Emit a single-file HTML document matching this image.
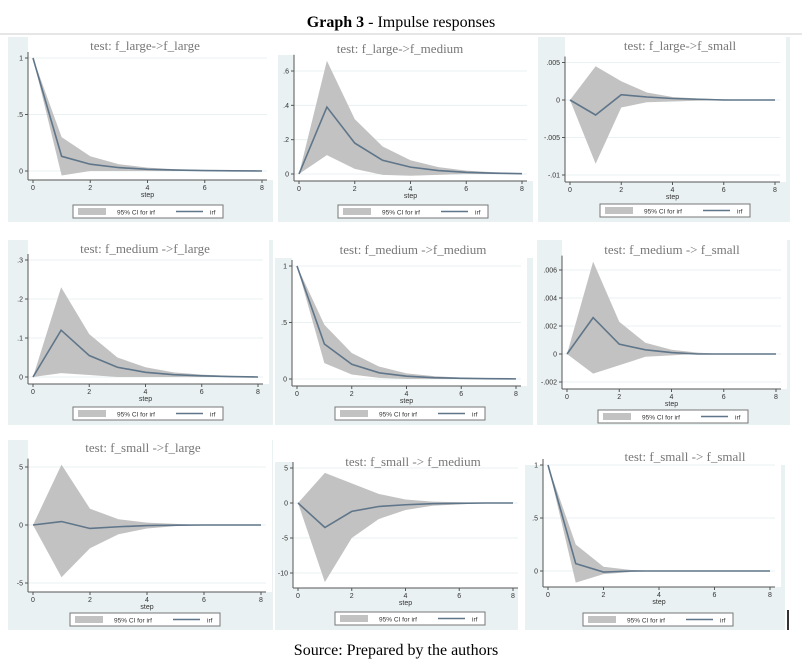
<!DOCTYPE html>
<html><head><meta charset="utf-8"><style>
body{margin:0;background:#fff;width:802px;height:660px;overflow:hidden;font-family:"Liberation Serif",serif}
svg{position:absolute;left:0;top:0}
</style></head><body>
<svg id="chart" width="802" height="660"></svg>
<script>
const steps=[0,1,2,3,4,5,6,7,8];
const titles=["test: f_large->f_large","test: f_large->f_medium","test: f_large->f_small","test: f_medium ->f_large","test: f_medium ->f_medium","test: f_medium -> f_small","test: f_small ->f_large","test: f_small -> f_medium","test: f_small -> f_small"];
const irf1=[1,.13,.06,.03,.015,.008,.004,.002,0],hi1=[1,.3,.13,.06,.03,.015,.008,.004,.002],lo1=[1,-.04,0,0,0,0,0,0,0];
const irf2=[0,.39,.18,.08,.04,.02,.01,.005,.002],hi2=[0,.66,.32,.16,.08,.04,.02,.01,.005],lo2=[0,.11,.03,-.005,-.01,-.005,0,0,0];
const irf3=[0,-.002,.0007,.0004,.0002,.0001,0,0,0],hi3=[0,.0045,.0025,.001,.0004,.0002,.0001,0,0],lo3=[0,-.0085,-.001,-.0003,-.0002,-.0001,0,0,0];
const irf4=[0,.12,.055,.025,.012,.006,.003,.001,0],hi4=[0,.23,.11,.05,.025,.012,.006,.003,.001],lo4=[0,.01,.005,0,0,0,0,0,0];
const irf5=[1,.31,.13,.055,.025,.012,.006,.003,.001],hi5=[1,.48,.23,.11,.05,.025,.012,.006,.003],lo5=[1,.14,.04,.01,0,0,0,0,0];
const irf6=[0,.0026,.0007,.0003,.0001,0,0,0,0],hi6=[0,.0066,.0023,.0008,.0003,.0001,0,0,0],lo6=[0,-.0014,-.0008,-.0002,-.0001,0,0,0,0];
const irf7=[0,.3,-.3,-.15,-.05,-.02,0,0,0],hi7=[0,5.2,1.4,.5,.2,.1,0,0,0],lo7=[0,-4.5,-2,-.8,-.3,-.1,0,0,0];
const irf8=[0,-3.5,-1.2,-.5,-.25,-.1,-.05,0,0],hi8=[0,4.3,2.8,1.3,.5,.2,.1,0,0],lo8=[0,-11.3,-5,-2.3,-1,-.4,-.2,0,0];
const irf9=[1,.07,-.01,0,0,0,0,0,0],hi9=[1,.25,.04,.01,0,0,0,0,0],lo9=[1,-.11,-.03,-.01,0,0,0,0,0];
const yTicks=[[0,.5,1],[0,.2,.4,.6],[-.01,-.005,0,.005],[0,.1,.2,.3],[0,.5,1],[-.002,0,.002,.004,.006],[-5,0,5],[-10,-5,0,5],[0,.5,1]];
const yTickLabels=[["0",".5","1"],["0",".2",".4",".6"],["-.01","-.005","0",".005"],["0",".1",".2",".3"],["0",".5","1"],["-.002","0",".002",".004",".006"],["-5","0","5"],["-10","-5","0","5"],["0",".5","1"]];
const xTicks=[0,2,4,6,8];
const IRF=[irf1,irf2,irf3,irf4,irf5,irf6,irf7,irf8,irf9],HI=[hi1,hi2,hi3,hi4,hi5,hi6,hi7,hi8,hi9],LO=[lo1,lo2,lo3,lo4,lo5,lo6,lo7,lo8,lo9];
const L=[
{bx:8,by:37,bw:265,bh:185,tx:145,ty:50,x0:33,x8:262,ya:0,pa:171,yb:1,pb:58,ax:180,lx:73,ly:205},
{bx:278,by:55,bw:255,bh:167,tx:400,ty:53,x0:299,x8:522,ya:0,pa:174,yb:.6,pb:71,ax:181,lx:338,ly:205},
{bx:538,by:37,bw:252,bh:185,tx:680,ty:50,x0:570,x8:775,ya:0,pa:100,yb:-.01,pb:175,ax:182,lx:600,ly:204},
{bx:8,by:240,bw:265,bh:185,tx:145,ty:253,x0:33,x8:258,ya:0,pa:377,yb:.3,pb:260,ax:384,lx:73,ly:407},
{bx:275,by:258,bw:258,bh:167,tx:413,ty:254,x0:297,x8:516,ya:0,pa:379,yb:1,pb:266,ax:386,lx:335,ly:407},
{bx:537,by:240,bw:253,bh:185,tx:672,ty:254,x0:567,x8:776,ya:0,pa:354,yb:.006,pb:270,ax:389,lx:598,ly:410},
{bx:8,by:440,bw:265,bh:190,tx:143,ty:452,x0:33,x8:261,ya:0,pa:525,yb:5,pb:467,ax:592,lx:70,ly:613},
{bx:275,by:462,bw:243,bh:168,tx:413,ty:466,x0:298,x8:513,ya:0,pa:503,yb:-10,pb:573,ax:588,lx:335,ly:612},
{bx:525,by:465,bw:260,bh:165,tx:685,ty:461,x0:548,x8:770,ya:0,pa:571,yb:1,pb:465,ax:587,lx:583,ly:613}];
const NS="http://www.w3.org/2000/svg",svg=document.getElementById('chart');
function mk(t,a,p,txt){const e=document.createElementNS(NS,t);for(const k in a)e.setAttribute(k,a[k]);if(txt!=null)e.textContent=txt;(p||svg).appendChild(e);return e;}
const T=mk('text',{x:401,y:27,'text-anchor':'middle','font-size':16,fill:'#000'});


mk('tspan',{'font-weight':'bold'},T,'Graph 3');mk('tspan',{},T,' - Impulse responses');
mk('line',{x1:0,y1:34,x2:802,y2:34,stroke:'#ccc','stroke-width':1});
L.forEach((l,i)=>{
 const g=mk('g',{});
 
 
 mk('rect',{x:l.bx,y:l.by,width:l.bw,height:l.bh,fill:'#eaf1f2'},g);
 const pl=l.x0-5,pr=l.x8+5;
 const yv=IRF[i],h=HI[i],lo=LO[i],tk=yTicks[i];
 const sx=s=>l.x0+(l.x8-l.x0)*s/8;
 const sy=v=>l.pa+(l.pb-l.pa)*(v-l.ya)/(l.yb-l.ya);
 const top=Math.min(...tk.map(sy),sy(Math.max(...h)))-6;
 mk('rect',{x:pl,y:l.by,width:pr-pl+6,height:l.ax-l.by,fill:'#fff'},g);
 tk.forEach((v,j)=>{mk('line',{x1:pl,x2:pr,y1:sy(v),y2:sy(v),stroke:'#eaf1f2','stroke-width':1},g);
  mk('line',{x1:pl-3,x2:pl,y1:sy(v),y2:sy(v),stroke:'#555'},g);
  mk('text',{x:pl-5,y:sy(v)+2.5,'text-anchor':'end','font-size':7,'font-family':'Liberation Sans, sans-serif',fill:'#333'},g,yTickLabels[i][j]);});
 let d='M'+steps.map(s=>sx(s)+','+sy(h[s])).join('L')+'L'+steps.slice().reverse().map(s=>sx(s)+','+sy(lo[s])).join('L')+'Z';
 const ci=mk('path',{d:d,fill:'#c2c2c2',stroke:'none'},g);
 
 
 const ln=mk('polyline',{points:steps.map(s=>sx(s)+','+sy(yv[s])).join(' '),fill:'none',stroke:'#5f7589','stroke-width':1.6},g);
 
 
 mk('line',{x1:pl,x2:pl,y1:top,y2:l.ax,stroke:'#555'},g);
 mk('line',{x1:pl,x2:pr,y1:l.ax,y2:l.ax,stroke:'#555'},g);
 xTicks.forEach(s=>{mk('line',{x1:sx(s),x2:sx(s),y1:l.ax,y2:l.ax+3,stroke:'#555'},g);
  mk('text',{x:sx(s),y:l.ax+10,'text-anchor':'middle','font-size':7,'font-family':'Liberation Sans, sans-serif',fill:'#333'},g,String(s));});
 mk('text',{x:sx(4),y:l.ax+17,'text-anchor':'middle','font-size':7,'font-family':'Liberation Sans, sans-serif',fill:'#333'},g,'step');
 const tt=mk('text',{x:l.tx,y:l.ty,'text-anchor':'middle','font-size':13,fill:'#777'},g,titles[i]);
 
 
 const lg=mk('g',{},g);
 
 
 mk('rect',{x:l.lx,y:l.ly,width:150,height:13,fill:'#fff',stroke:'#777'},lg);
 mk('rect',{x:l.lx+5,y:l.ly+3,width:28,height:7,fill:'#c2c2c2'},lg);
 mk('text',{x:l.lx+44,y:l.ly+9.5,'font-size':6.5,'font-family':'Liberation Sans, sans-serif',fill:'#333'},lg,'95% CI for irf');
 mk('line',{x1:l.lx+103,x2:l.lx+130,y1:l.ly+6.5,y2:l.ly+6.5,stroke:'#5f7589','stroke-width':1.4},lg);
 mk('text',{x:l.lx+137,y:l.ly+9.5,'font-size':6.5,'font-family':'Liberation Sans, sans-serif',fill:'#333'},lg,'irf');
});
const s=mk('text',{x:396,y:655,'text-anchor':'middle','font-size':16,fill:'#000'},null,'Source: Prepared by the authors');


mk('line',{x1:788,x2:788,y1:610,y2:630,stroke:'#333','stroke-width':2});
</script>
</body></html>
